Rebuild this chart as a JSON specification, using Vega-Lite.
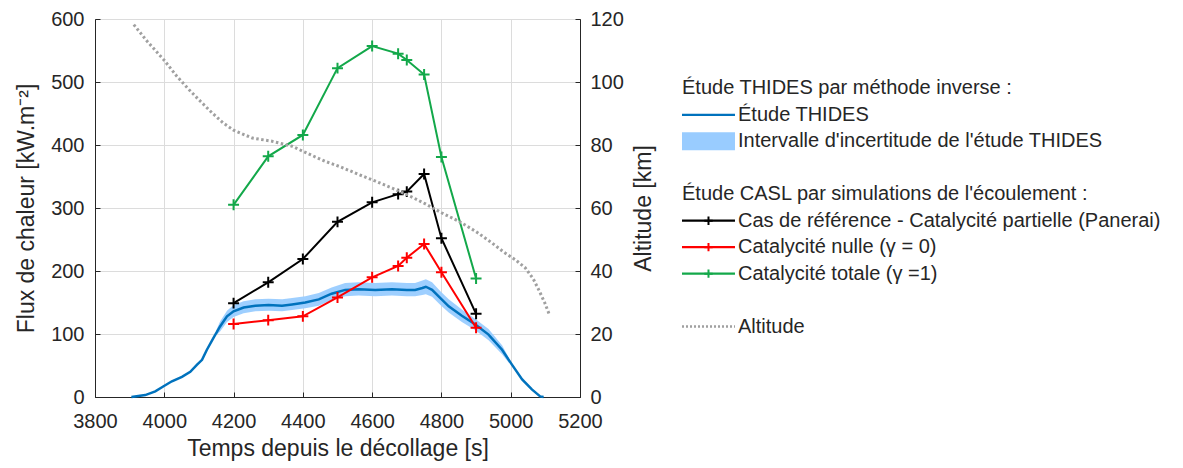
{
  "$schema": "https://vega.github.io/schema/vega-lite/v6.json",
  "padding": {"left": 15, "top": 8, "right": 0, "bottom": 0},
  "background": "white",
  "datasets": {
    "thides": [
      {"t": 3905, "flux": 0}, {"t": 3945, "flux": 3}, {"t": 3974, "flux": 9}, {"t": 3998, "flux": 17},
      {"t": 4022, "flux": 25}, {"t": 4051, "flux": 32}, {"t": 4075, "flux": 40}, {"t": 4094, "flux": 51},
      {"t": 4109, "flux": 59}, {"t": 4123, "flux": 75}, {"t": 4142, "flux": 94}, {"t": 4161, "flux": 112},
      {"t": 4181, "flux": 128}, {"t": 4200, "flux": 136}, {"t": 4229, "flux": 142}, {"t": 4263, "flux": 145},
      {"t": 4301, "flux": 146}, {"t": 4340, "flux": 145}, {"t": 4369, "flux": 147}, {"t": 4407, "flux": 150},
      {"t": 4446, "flux": 155}, {"t": 4483, "flux": 164}, {"t": 4522, "flux": 170}, {"t": 4561, "flux": 171},
      {"t": 4609, "flux": 170}, {"t": 4657, "flux": 171}, {"t": 4700, "flux": 170}, {"t": 4724, "flux": 170},
      {"t": 4745, "flux": 173}, {"t": 4755, "flux": 175}, {"t": 4773, "flux": 170}, {"t": 4797, "flux": 157},
      {"t": 4821, "flux": 144}, {"t": 4859, "flux": 129}, {"t": 4898, "flux": 115}, {"t": 4936, "flux": 99},
      {"t": 4975, "flux": 75}, {"t": 5004, "flux": 51}, {"t": 5033, "flux": 28}, {"t": 5061, "flux": 12},
      {"t": 5085, "flux": 1}, {"t": 5095, "flux": 0}
    ],
    "band": [
      {"t": 4150, "lo": 98, "hi": 106}, {"t": 4161, "lo": 104, "hi": 120}, {"t": 4181, "lo": 119, "hi": 137},
      {"t": 4200, "lo": 127, "hi": 146}, {"t": 4229, "lo": 133, "hi": 152}, {"t": 4263, "lo": 136, "hi": 155},
      {"t": 4301, "lo": 137, "hi": 156}, {"t": 4340, "lo": 136, "hi": 155}, {"t": 4369, "lo": 138, "hi": 157},
      {"t": 4407, "lo": 141, "hi": 160}, {"t": 4446, "lo": 145, "hi": 165}, {"t": 4483, "lo": 154, "hi": 174},
      {"t": 4522, "lo": 160, "hi": 181}, {"t": 4561, "lo": 161, "hi": 182}, {"t": 4609, "lo": 160, "hi": 181},
      {"t": 4657, "lo": 161, "hi": 182}, {"t": 4700, "lo": 160, "hi": 181}, {"t": 4724, "lo": 160, "hi": 181},
      {"t": 4745, "lo": 162, "hi": 185}, {"t": 4755, "lo": 163, "hi": 187}, {"t": 4773, "lo": 159, "hi": 182},
      {"t": 4797, "lo": 146, "hi": 168}, {"t": 4821, "lo": 134, "hi": 155}, {"t": 4859, "lo": 119, "hi": 139},
      {"t": 4898, "lo": 106, "hi": 124}, {"t": 4936, "lo": 90, "hi": 108}, {"t": 4975, "lo": 68, "hi": 82},
      {"t": 4995, "lo": 54, "hi": 62}
    ],
    "casl": [
      {"t": 4200, "flux": 149, "series": "Cas de référence - Catalycité partielle (Panerai)"},
      {"t": 4300, "flux": 182, "series": "Cas de référence - Catalycité partielle (Panerai)"},
      {"t": 4400, "flux": 219, "series": "Cas de référence - Catalycité partielle (Panerai)"},
      {"t": 4500, "flux": 278, "series": "Cas de référence - Catalycité partielle (Panerai)"},
      {"t": 4600, "flux": 309, "series": "Cas de référence - Catalycité partielle (Panerai)"},
      {"t": 4675, "flux": 322, "series": "Cas de référence - Catalycité partielle (Panerai)"},
      {"t": 4700, "flux": 326, "series": "Cas de référence - Catalycité partielle (Panerai)"},
      {"t": 4750, "flux": 354, "series": "Cas de référence - Catalycité partielle (Panerai)"},
      {"t": 4800, "flux": 252, "series": "Cas de référence - Catalycité partielle (Panerai)"},
      {"t": 4900, "flux": 132, "series": "Cas de référence - Catalycité partielle (Panerai)"},
      {"t": 4200, "flux": 116, "series": "Catalycité nulle (γ = 0)"},
      {"t": 4300, "flux": 122, "series": "Catalycité nulle (γ = 0)"},
      {"t": 4400, "flux": 128, "series": "Catalycité nulle (γ = 0)"},
      {"t": 4500, "flux": 158, "series": "Catalycité nulle (γ = 0)"},
      {"t": 4600, "flux": 190, "series": "Catalycité nulle (γ = 0)"},
      {"t": 4675, "flux": 208, "series": "Catalycité nulle (γ = 0)"},
      {"t": 4700, "flux": 221, "series": "Catalycité nulle (γ = 0)"},
      {"t": 4750, "flux": 243, "series": "Catalycité nulle (γ = 0)"},
      {"t": 4800, "flux": 198, "series": "Catalycité nulle (γ = 0)"},
      {"t": 4900, "flux": 110, "series": "Catalycité nulle (γ = 0)"},
      {"t": 4200, "flux": 305, "series": "Catalycité totale (γ =1)"},
      {"t": 4300, "flux": 382, "series": "Catalycité totale (γ =1)"},
      {"t": 4400, "flux": 416, "series": "Catalycité totale (γ =1)"},
      {"t": 4500, "flux": 522, "series": "Catalycité totale (γ =1)"},
      {"t": 4600, "flux": 557, "series": "Catalycité totale (γ =1)"},
      {"t": 4675, "flux": 545, "series": "Catalycité totale (γ =1)"},
      {"t": 4700, "flux": 535, "series": "Catalycité totale (γ =1)"},
      {"t": 4750, "flux": 512, "series": "Catalycité totale (γ =1)"},
      {"t": 4800, "flux": 381, "series": "Catalycité totale (γ =1)"},
      {"t": 4900, "flux": 188, "series": "Catalycité totale (γ =1)"}
    ],
    "altitude": [
      {"t": 3912, "alt": 118.2}, {"t": 3950, "alt": 113}, {"t": 3999, "alt": 107}, {"t": 4035, "alt": 102},
      {"t": 4071, "alt": 97.6}, {"t": 4105, "alt": 93.8}, {"t": 4138, "alt": 90.2}, {"t": 4170, "alt": 87},
      {"t": 4200, "alt": 84.7}, {"t": 4254, "alt": 82.2}, {"t": 4311, "alt": 81.2}, {"t": 4369, "alt": 79.6},
      {"t": 4420, "alt": 77}, {"t": 4465, "alt": 74.8}, {"t": 4510, "alt": 73}, {"t": 4562, "alt": 70.6},
      {"t": 4610, "alt": 68.5}, {"t": 4658, "alt": 66.3}, {"t": 4705, "alt": 64}, {"t": 4754, "alt": 61.3},
      {"t": 4800, "alt": 58.5}, {"t": 4850, "alt": 55.8}, {"t": 4900, "alt": 52.5}, {"t": 4946, "alt": 48.9},
      {"t": 4980, "alt": 46}, {"t": 5013, "alt": 43.6}, {"t": 5042, "alt": 41}, {"t": 5065, "alt": 37.5},
      {"t": 5081, "alt": 34}, {"t": 5098, "alt": 30}, {"t": 5112, "alt": 26}
    ],
    "legendItems": [
      {"item": "Étude THIDES par méthode inverse :", "kind": "header"},
      {"item": "Étude THIDES", "kind": "line"},
      {"item": "Intervalle d'incertitude de l'étude THIDES", "kind": "band"},
      {"item": "Étude CASL par simulations de l'écoulement :", "kind": "header"},
      {"item": "Cas de référence - Catalycité partielle (Panerai)", "kind": "marker"},
      {"item": "Catalycité nulle (γ = 0)", "kind": "marker"},
      {"item": "Catalycité totale (γ =1)", "kind": "marker"},
      {"item": "Altitude", "kind": "dotted"}
    ]
  },
  "bounds": "flush",
  "spacing": 102,
  "resolve": {"scale": {"color": "independent"}},
  "hconcat": [
    {
      "width": 485,
      "height": 378,
      "layer": [
        {
          "layer": [
            {
              "data": {"name": "band"},
              "mark": {"type": "area", "color": "#99ccff", "opacity": 0.95},
              "encoding": {
                "x": {"field": "t", "type": "quantitative", "scale": {"domain": [3800, 5200], "nice": false}, "axis": {"title": "Temps depuis le décollage [s]", "values": [3800, 4000, 4200, 4400, 4600, 4800, 5000, 5200], "format": "d", "grid": true}},
                "y": {"field": "lo", "type": "quantitative", "scale": {"domain": [0, 600], "nice": false}, "axis": {"title": "Flux de chaleur [kW.m⁻²]", "values": [0, 100, 200, 300, 400, 500, 600], "grid": true, "orient": "left"}},
                "y2": {"field": "hi"}
              }
            },
            {
              "data": {"name": "thides"},
              "mark": {"type": "line", "color": "#0072BD", "strokeWidth": 2.5},
              "encoding": {
                "x": {"field": "t", "type": "quantitative", "scale": {"domain": [3800, 5200], "nice": false}, "axis": {"title": "Temps depuis le décollage [s]", "values": [3800, 4000, 4200, 4400, 4600, 4800, 5000, 5200], "format": "d", "grid": true}},
                "y": {"field": "flux", "type": "quantitative", "scale": {"domain": [0, 600], "nice": false}, "axis": {"title": "Flux de chaleur [kW.m⁻²]", "values": [0, 100, 200, 300, 400, 500, 600], "grid": true, "orient": "left"}}
              }
            },
            {
              "data": {"name": "casl"},
              "mark": {"type": "line", "strokeWidth": 2},
              "encoding": {
                "x": {"field": "t", "type": "quantitative", "scale": {"domain": [3800, 5200], "nice": false}, "axis": {"title": "Temps depuis le décollage [s]", "values": [3800, 4000, 4200, 4400, 4600, 4800, 5000, 5200], "format": "d", "grid": true}},
                "y": {"field": "flux", "type": "quantitative", "scale": {"domain": [0, 600], "nice": false}, "axis": {"title": "Flux de chaleur [kW.m⁻²]", "values": [0, 100, 200, 300, 400, 500, 600], "grid": true, "orient": "left"}},
                "color": {"field": "series", "type": "nominal", "scale": {"domain": ["Cas de référence - Catalycité partielle (Panerai)", "Catalycité nulle (γ = 0)", "Catalycité totale (γ =1)"], "range": ["#000000", "#ff0000", "#13a84a"]}, "legend": null}
              }
            },
            {
              "data": {"name": "casl"},
              "mark": {"type": "point", "shape": "M-1,0H1M0,-1V1", "filled": false, "strokeWidth": 2, "size": 120, "opacity": 1},
              "encoding": {
                "x": {"field": "t", "type": "quantitative", "scale": {"domain": [3800, 5200], "nice": false}, "axis": {"title": "Temps depuis le décollage [s]", "values": [3800, 4000, 4200, 4400, 4600, 4800, 5000, 5200], "format": "d", "grid": true}},
                "y": {"field": "flux", "type": "quantitative", "scale": {"domain": [0, 600], "nice": false}, "axis": {"title": "Flux de chaleur [kW.m⁻²]", "values": [0, 100, 200, 300, 400, 500, 600], "grid": true, "orient": "left"}},
                "color": {"field": "series", "type": "nominal", "scale": {"domain": ["Cas de référence - Catalycité partielle (Panerai)", "Catalycité nulle (γ = 0)", "Catalycité totale (γ =1)"], "range": ["#000000", "#ff0000", "#13a84a"]}, "legend": null}
              }
            }
          ]
        },
        {
          "data": {"name": "altitude"},
          "mark": {"type": "line", "color": "#a0a0a0", "strokeWidth": 3, "strokeDash": [2.5, 2.5]},
          "encoding": {
            "x": {"field": "t", "type": "quantitative", "scale": {"domain": [3800, 5200], "nice": false}, "axis": {"title": "Temps depuis le décollage [s]", "values": [3800, 4000, 4200, 4400, 4600, 4800, 5000, 5200], "format": "d", "grid": true}},
            "y": {"field": "alt", "type": "quantitative", "scale": {"domain": [0, 120], "nice": false}, "axis": {"title": "Altitude [km]", "values": [0, 20, 40, 60, 80, 100, 120], "grid": false, "orient": "right", "labelPadding": 15, "titleAngle": 270, "titleBaseline": "top", "titlePadding": 9}}
          }
        }
      ],
      "resolve": {"scale": {"y": "independent"}, "axis": {"y": "independent"}}
    },
    {
      "width": 480,
      "height": 324,
      "view": {"stroke": null},
      "data": {"name": "legendItems"},
      "encoding": {
        "y": {"field": "item", "type": "nominal", "axis": null,
          "scale": {"type": "point", "padding": 0.62, "domain": [
            "top1", "top2",
            "Étude THIDES par méthode inverse :", "Étude THIDES", "Intervalle d'incertitude de l'étude THIDES", "gap1",
            "Étude CASL par simulations de l'écoulement :", "Cas de référence - Catalycité partielle (Panerai)",
            "Catalycité nulle (γ = 0)", "Catalycité totale (γ =1)", "gap2", "Altitude"]}}
      },
      "layer": [
        {
          "transform": [{"filter": "datum.kind === 'band'"}],
          "mark": {"type": "rule", "strokeWidth": 18, "strokeCap": "butt", "color": "#99ccff"},
          "encoding": {
            "x": {"datum": 0, "type": "quantitative", "scale": {"domain": [0, 1], "nice": false, "zero": false}, "axis": null},
            "x2": {"datum": 0.1104}
          }
        },
        {
          "transform": [{"filter": "datum.kind === 'line' || datum.kind === 'marker'"}],
          "mark": {"type": "rule", "strokeWidth": 2.2, "strokeCap": "butt"},
          "encoding": {
            "x": {"datum": 0, "type": "quantitative", "scale": {"domain": [0, 1], "nice": false, "zero": false}, "axis": null},
            "x2": {"datum": 0.1104},
            "color": {"field": "item", "type": "nominal", "legend": null, "scale": {"domain": ["Étude THIDES", "Cas de référence - Catalycité partielle (Panerai)", "Catalycité nulle (γ = 0)", "Catalycité totale (γ =1)"], "range": ["#0072BD", "#000000", "#ff0000", "#13a84a"]}}
          }
        },
        {
          "transform": [{"filter": "datum.kind === 'marker'"}],
          "mark": {"type": "point", "shape": "M-1,0H1M0,-1V1", "filled": false, "strokeWidth": 2, "size": 70, "opacity": 1},
          "encoding": {
            "x": {"datum": 0.0552, "type": "quantitative", "scale": {"domain": [0, 1], "nice": false, "zero": false}, "axis": null},
            "color": {"field": "item", "type": "nominal", "legend": null, "scale": {"domain": ["Étude THIDES", "Cas de référence - Catalycité partielle (Panerai)", "Catalycité nulle (γ = 0)", "Catalycité totale (γ =1)"], "range": ["#0072BD", "#000000", "#ff0000", "#13a84a"]}}
          }
        },
        {
          "transform": [{"filter": "datum.kind === 'dotted'"}],
          "mark": {"type": "rule", "strokeWidth": 2.5, "strokeDash": [2, 2], "color": "#a0a0a0"},
          "encoding": {
            "x": {"datum": 0, "type": "quantitative", "scale": {"domain": [0, 1], "nice": false, "zero": false}, "axis": null},
            "x2": {"datum": 0.1104}
          }
        },
        {
          "transform": [{"filter": "datum.kind === 'header'"}],
          "mark": {"type": "text", "align": "left", "baseline": "middle", "fontSize": 20, "color": "#262626", "font": "Liberation Sans"},
          "encoding": {
            "x": {"datum": 0, "type": "quantitative", "scale": {"domain": [0, 1], "nice": false, "zero": false}, "axis": null},
            "text": {"field": "item"}
          }
        },
        {
          "transform": [{"filter": "datum.kind !== 'header'"}],
          "mark": {"type": "text", "align": "left", "baseline": "middle", "fontSize": 20, "color": "#262626", "font": "Liberation Sans", "dx": 56},
          "encoding": {
            "x": {"datum": 0, "type": "quantitative", "scale": {"domain": [0, 1], "nice": false, "zero": false}, "axis": null},
            "text": {"field": "item"}
          }
        }
      ]
    }
  ],
  "config": {
    "font": "Liberation Sans",
    "view": {"stroke": "#262626", "strokeWidth": 1},
    "axis": {
      "labelFont": "Liberation Sans", "labelFontSize": 20, "labelColor": "#262626",
      "titleFont": "Liberation Sans", "titleFontSize": 23, "titleFontWeight": "normal", "titleColor": "#262626",
      "domainColor": "#262626", "domainWidth": 1, "tickColor": "#262626", "tickSize": -5, "tickWidth": 1,
      "gridColor": "#dcdcdc", "gridWidth": 1, "labelFlush": false, "labelOverlap": false
    },
    "axisX": {"labelPadding": 19, "titlePadding": 6},
    "axisLeft": {"labelPadding": 16, "titlePadding": 12},
    "axisRight": {"labelPadding": 15}
  }
}
